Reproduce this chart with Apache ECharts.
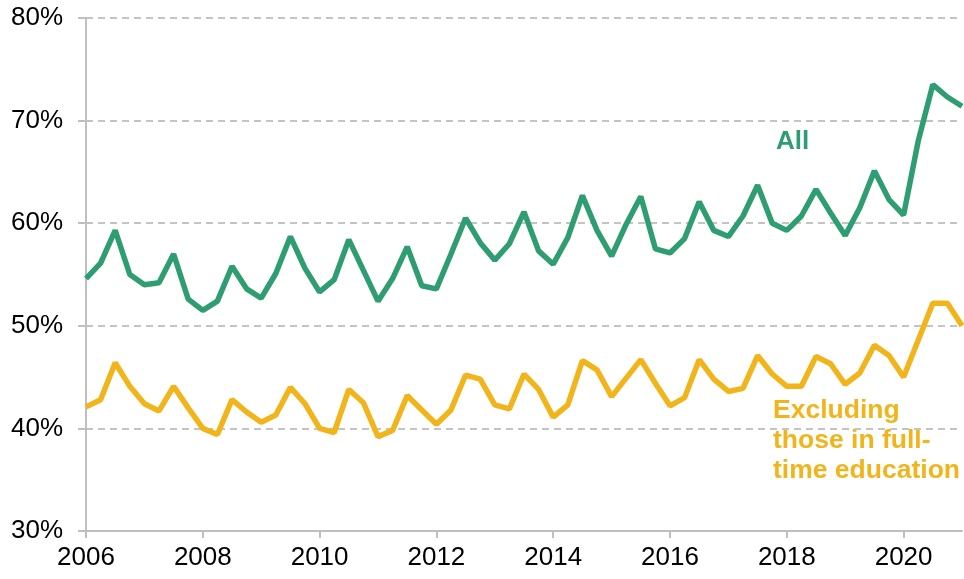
<!DOCTYPE html>
<html>
<head>
<meta charset="utf-8">
<script src="https://cdn.jsdelivr.net/npm/echarts@6/dist/echarts.min.js"></script>
<style>html,body{margin:0;padding:0;background:#fff;}#c{width:964px;height:579px;}</style>
</head>
<body>
<div id="c"></div>
<script>
var startYear = 2006, endYear = 2021;
var quarters = [];
for (var y = startYear; y <= endYear; y++) {
  for (var q = 1; q <= 4; q++) {
    if (y === endYear && q > 1) break;
    quarters.push(y + ' Q' + q);
  }
}
var allValues = [54.6,56.1,59.3,55.0,54.0,54.2,57.0,52.6,51.5,52.4,
  55.8,53.6,52.7,55.1,58.7,55.6,53.3,54.5,58.4,55.4,
  52.4,54.6,57.7,53.9,53.6,57.0,60.5,58.1,56.4,58.0,
  61.1,57.3,56.0,58.6,62.7,59.3,56.8,59.9,62.6,57.5,
  57.1,58.5,62.1,59.3,58.7,60.7,63.7,60.0,59.3,60.7,
  63.3,61.0,58.8,61.5,65.1,62.3,60.8,68.0,73.5,72.3,
  71.4];
var exclValues = [42.1,42.8,46.4,44.1,42.4,41.7,44.1,42.0,40.0,39.4,
  42.8,41.6,40.6,41.3,44.0,42.4,40.0,39.6,43.8,42.5,
  39.2,39.8,43.2,41.8,40.4,41.8,45.2,44.8,42.3,41.9,
  45.3,43.8,41.1,42.3,46.6,45.7,43.1,44.9,46.7,44.4,
  42.2,43.0,46.7,44.8,43.6,43.9,47.1,45.3,44.1,44.1,
  47.0,46.3,44.3,45.4,48.1,47.1,45.0,48.6,52.2,52.2,
  50.0];
var seriesNames = ['All', 'Excluding those in full-time education'];
var yTicks = [30, 40, 50, 60, 70, 80];

var green = '#2e9e72', orange = '#f1b51b';
var font = '"Liberation Sans", Arial, sans-serif';
var chart = echarts.init(document.getElementById('c'));
chart.setOption({
  animation: false,
  grid: {left: 86, right: 2, top: 18, bottom: 48},
  xAxis: {
    type: 'category',
    data: quarters,
    boundaryGap: false,
    axisLine: {lineStyle: {color: '#bfbfbf', width: 2}},
    axisTick: {interval: 7, length: 7, lineStyle: {color: '#bfbfbf', width: 2}},
    axisLabel: {interval: 7, margin: 14, color: '#000', fontSize: 26, fontFamily: font,
      formatter: function (v) { return v.slice(0, 4); }},
    splitLine: {show: false}
  },
  yAxis: {
    type: 'value',
    min: yTicks[0], max: yTicks[yTicks.length - 1], interval: 10,
    axisLine: {show: true, lineStyle: {color: '#bfbfbf', width: 2}},
    axisTick: {show: true, length: 8, lineStyle: {color: '#bfbfbf', width: 2}},
    axisLabel: {margin: 23, color: '#000', fontSize: 26, fontFamily: font,
      formatter: '{value}%'},
    splitLine: {lineStyle: {color: '#c4c4c4', width: 2, type: [7, 5]}}
  },
  series: [
    {name: seriesNames[0], type: 'line', data: allValues, symbol: 'none',
     lineStyle: {color: green, width: 5.5}, itemStyle: {color: green}},
    {name: seriesNames[1], type: 'line', data: exclValues, symbol: 'none',
     lineStyle: {color: orange, width: 5.5}, itemStyle: {color: orange}}
  ],
  graphic: [
    {type: 'text', left: 776, top: 129,
     style: {text: 'All', fill: green, font: 'bold 26px ' + font}},
    {type: 'text', left: 773, top: 396,
     style: {text: 'Excluding\nthose in full-\ntime education', fill: orange,
       font: 'bold 26.5px ' + font, lineHeight: 30}}
  ]
});
</script>
</body>
</html>
